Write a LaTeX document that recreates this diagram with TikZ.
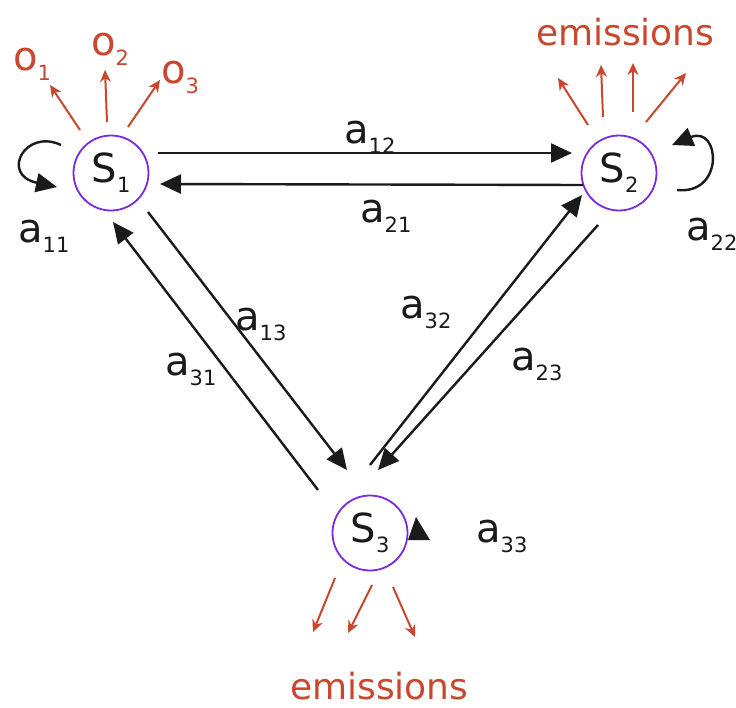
\documentclass[tikz,border=0pt]{standalone}
\usepackage{fontspec}
\setmainfont{DejaVu Sans}
\usetikzlibrary{arrows.meta,calc}
\definecolor{stpurple}{HTML}{7A2BE2}
\definecolor{emred}{HTML}{C8472E}
\definecolor{ink}{HTML}{1A1A1A}
\newcommand\lbl[2]{#1\raisebox{-0.25em}{\fontsize{21}{21}\selectfont #2}}
\begin{document}
\begin{tikzpicture}[x=1pt,y=-1pt,
  state/.style={circle, draw=stpurple, line width=1.8pt, minimum size=75pt, inner sep=0pt, font=\fontsize{40}{40}\selectfont, text=ink},
  trans/.style={draw=ink, line width=2.4pt, -{Triangle[length=21pt,width=19pt]}},
  emit/.style={draw=emred, line width=2pt, -{Stealth[length=12pt,width=11pt]}},
  tlabel/.style={font=\fontsize{40}{40}\selectfont, text=ink, inner sep=0pt, anchor=base west},
  olabel/.style={font=\fontsize{40}{40}\selectfont, text=emred, inner sep=0pt, anchor=base west},
  emlabel/.style={font=\fontsize{36}{36}\selectfont, text=emred, inner sep=0pt, anchor=base west}]
\useasboundingbox[fill=white] (0,0) rectangle (736,707);

\node[state] (s1) at (111,173) {\lbl{S}{1}};
\node[state] (s2) at (619,173) {\lbl{S}{2}};
\node[state] (s3) at (370,533) {\lbl{S}{3}};

% transitions
\draw[trans] ($(s1)+(47,-20)$) -- ($(s2)+(-47,-20)$);
\draw[trans] ($(s2)+(-36,12)$) -- ($(s1)+(49,11)$);
\draw[trans] ($(s1)+(37,39)$) -- ($(s3)+(-23,-63)$);
\draw[trans] ($(s3)+(-52,-43)$) -- ($(s1)+(2,49)$);
\draw[trans] ($(s3)+(0,-68)$) -- ($(s2)+(-37,22)$);
\draw[trans] ($(s2)+(-21,52)$) -- ($(s3)+(8,-63)$);

% self loops
\draw[trans] ($(s1)+(-50,-28)$) .. controls ($(s1)+(-86,-45)$) and ($(s1)+(-111,2)$) .. ($(s1)+(-54,14)$);
\draw[trans] ($(s2)+(58,17)$) .. controls ($(s2)+(106,22)$) and ($(s2)+(101,-48)$) .. ($(s2)+(53,-28)$);
\fill[ink] ($(s3)+(38,7)$) -- ($(s3)+(46,-16)$) -- ($(s3)+(60,7)$) -- cycle;

% emissions
\draw[emit] ($(s1)+(-31,-43)$) -- ($(s1)+(-61,-88)$);
\draw[emit] ($(s1)+(-4,-51)$) -- ($(s1)+(-6,-103)$);
\draw[emit] ($(s1)+(17,-46)$) -- ($(s1)+(49,-93)$);
\draw[emit] ($(s2)+(-31,-48)$) -- ($(s2)+(-61,-95)$);
\draw[emit] ($(s2)+(-16,-56)$) -- ($(s2)+(-18,-108)$);
\draw[emit] ($(s2)+(14,-61)$) -- ($(s2)+(14,-110)$);
\draw[emit] ($(s2)+(27,-51)$) -- ($(s2)+(67,-100)$);
\draw[emit] ($(s3)+(-35,45)$) -- ($(s3)+(-57,99)$);
\draw[emit] ($(s3)+(2,52)$) -- ($(s3)+(-22,100)$);
\draw[emit] ($(s3)+(23,54)$) -- ($(s3)+(45,104)$);

% labels
\node[olabel] (o1) at (13,70) {\lbl{o}{1}};
\node[olabel] (o2) at (91,55) {\lbl{o}{2}};
\node[olabel] (o3) at (161,83) {\lbl{o}{3}};
\node[emlabel] (em2) at (536,45) {emissions};
\node[emlabel] (em3) at (290,699) {emissions};

\node[tlabel] (l12) at (344,143) {\lbl{a}{12}};
\node[tlabel] (l21) at (360,222) {\lbl{a}{21}};
\node[tlabel] (l11) at (18,242) {\lbl{a}{11}};
\node[tlabel] (l22) at (686,240) {\lbl{a}{22}};
\node[tlabel] (l13) at (235,330) {\lbl{a}{13}};
\node[tlabel] (l31) at (165,375) {\lbl{a}{31}};
\node[tlabel] (l32) at (400,318) {\lbl{a}{32}};
\node[tlabel] (l23) at (511,370) {\lbl{a}{23}};
\node[tlabel] (l33) at (476,542) {\lbl{a}{33}};
\end{tikzpicture}
\end{document}
